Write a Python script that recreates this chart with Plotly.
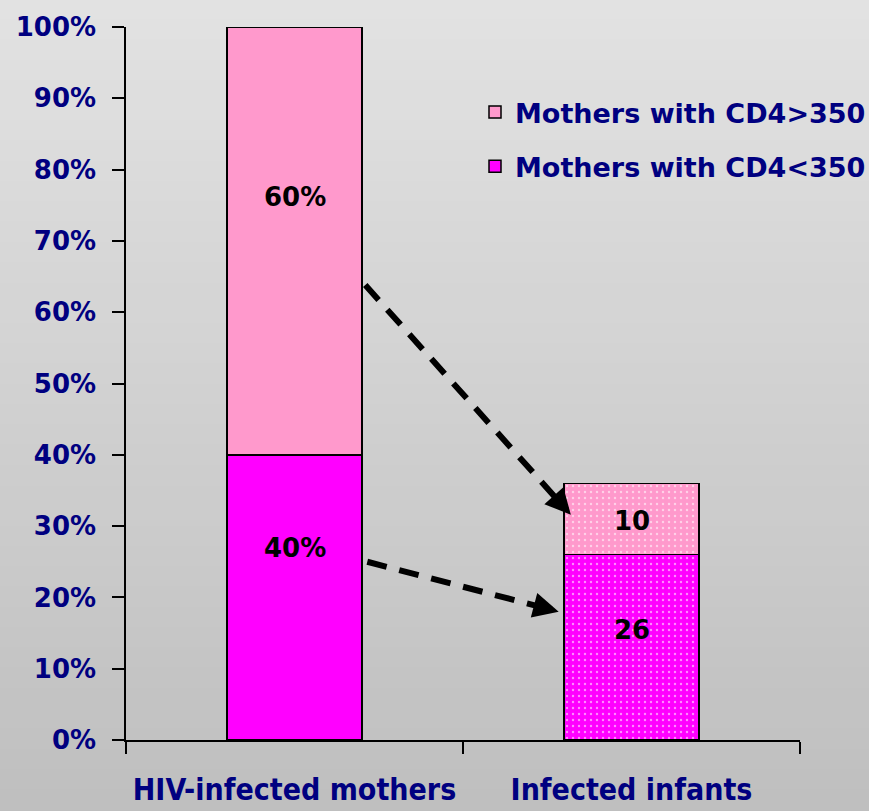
import plotly.graph_objects as go

categories = ["HIV-infected mothers", "Infected infants"]
cd4_low = [40, 26]     # Mothers with CD4<350
cd4_high = [60, 10]    # Mothers with CD4>350
low_labels = ["40%", "26"]
high_labels = ["60%", "10"]
y_ticks = list(range(0, 101, 10))
y_tick_text = [f"{v}%" for v in y_ticks]

NAVY = "#000080"
PINK = "#ff99cc"
MAGENTA = "#ff00ff"

fig = go.Figure()
fig.add_trace(go.Bar(
    x=categories, y=cd4_low, name="Mothers with CD4<350",
    marker=dict(color=MAGENTA, line=dict(color="black", width=1.5),
                pattern=dict(shape=["", "."], fgcolor="white", fgopacity=0.55, size=6, solidity=0.12)),
    legendrank=2, legendgroup="low",
))
fig.add_trace(go.Bar(
    x=categories, y=cd4_high, name="Mothers with CD4>350",
    marker=dict(color=PINK, line=dict(color="black", width=1.5),
                pattern=dict(shape=["", "."], fgcolor="white", fgopacity=0.55, size=6, solidity=0.12)),
    legendrank=1, legendgroup="high",
))

# In-bar labels
label_shift_low = [49, 17]
label_shift_high = [44, -2]
for i, c in enumerate(categories):
    fig.add_annotation(x=c, y=cd4_low[i] / 2, text=low_labels[i], showarrow=False,
                       yshift=label_shift_low[i],
                       font=dict(family="DejaVu Sans", size=26, color="black", weight="bold"))
    fig.add_annotation(x=c, y=cd4_low[i] + cd4_high[i] / 2, text=high_labels[i], showarrow=False,
                       yshift=label_shift_high[i],
                       font=dict(family="DejaVu Sans", size=26, color="black", weight="bold"))

# Dashed arrows (start x, start y, tip x, tip y) in axis units
arrows = [(0.210, 63.8, 0.820, 31.6, 0.93), (0.216, 25.0, 0.784, 18.0, 0.90)]
for x0, y0, x1, y1, f in arrows:
    fig.add_shape(type="line", xref="x", yref="y", x0=x0, y0=y0,
                  x1=x0 + (x1 - x0) * (f + 0.02), y1=y0 + (y1 - y0) * (f + 0.02),
                  line=dict(color="black", width=6, dash="20px,13px"))
    fig.add_annotation(x=x1, y=y1, ax=x0 + (x1 - x0) * f, ay=y0 + (y1 - y0) * f,
                       xref="x", yref="y", axref="x", ayref="y", text="",
                       showarrow=True, arrowhead=2, arrowsize=0.85, arrowwidth=6,
                       arrowcolor="black")

# Background gradient
n = 40
top = (226, 226, 226)
bot = (191, 191, 191)
L, R, T, B = 126, 69, 27, 71
W, H = 869, 811
pw, ph = W - L - R, H - T - B
for k in range(n):
    t = k / (n - 1)
    col = tuple(round(top[j] + (bot[j] - top[j]) * t) for j in range(3))
    ya = (H - B - (k * H / n)) / ph
    yb = (H - B - ((k + 1) * H / n)) / ph
    fig.add_shape(type="rect", xref="paper", yref="paper",
                  x0=-L / pw - 0.01, x1=1 + R / pw + 0.01, y0=ya + 0.002, y1=yb - 0.002,
                  fillcolor="rgb(%d,%d,%d)" % col, line=dict(width=0), layer="below")

fig.update_layout(
    width=W, height=H,
    margin=dict(l=L, r=R, t=T, b=B, pad=0, autoexpand=False),
    barmode="stack", bargap=0.6,
    paper_bgcolor="rgb(208,208,208)", plot_bgcolor="rgba(0,0,0,0)",
    showlegend=True,
    legend=dict(xref="container", yref="container", x=475 / W, y=1 - 88 / H,
                xanchor="left", yanchor="top",
                traceorder="grouped", tracegroupgap=16,
                bgcolor="rgba(0,0,0,0)",
                font=dict(family="DejaVu Sans", size=27, color=NAVY, weight="bold")),
    xaxis=dict(showline=True, linecolor="black", linewidth=1.5,
               ticks="outside", tickson="boundaries", ticklen=12, tickcolor="black", tickwidth=1.5,
               ticklabelstandoff=22, showgrid=False, zeroline=False,
               tickfont=dict(family="DejaVu Sans Condensed, Lato", size=30, color=NAVY, weight="bold")),
    yaxis=dict(range=[0, 100], tickvals=y_ticks, ticktext=y_tick_text,
               showline=True, linecolor="black", linewidth=1.5,
               ticks="outside", ticklen=12, tickcolor="black", tickwidth=1.5,
               showgrid=False, zeroline=False, ticklabelstandoff=11,
               tickfont=dict(family="DejaVu Sans", size=26, color=NAVY, weight="bold")),
)

fig.write_html("out.html", config={"displayModeBar": False},
               post_script="document.body.style.margin='0';document.body.style.overflow='hidden';")
